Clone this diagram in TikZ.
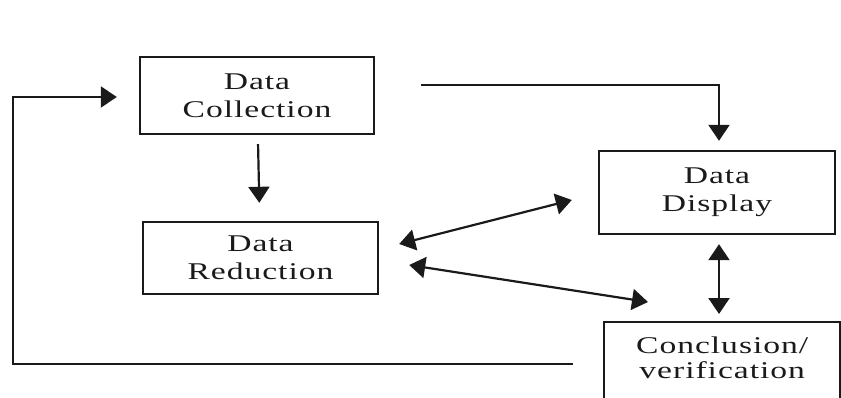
\documentclass[tikz,border=0pt]{standalone}
\usepackage{fontspec}
\usepackage{tikz}
\usetikzlibrary{arrows.meta,positioning,calc}
\setmainfont{Liberation Serif}
\newfontfamily\boxfont[FakeStretch=1.4,LetterSpace=4]{Liberation Serif}
\definecolor{ink}{HTML}{1A1A1A}

\begin{document}
\begin{tikzpicture}[x=1pt,y=-1pt,
    stagebox/.style={draw=ink, line width=2.4pt, minimum width=234pt,
      align=center, font=\boxfont\fontsize{24}{28}\selectfont, text=ink},
    stagetext/.style={align=center, font=\boxfont\fontsize{24}{25}\selectfont, text=ink},
    flow/.style={draw=ink, line width=2.2pt,
      -{Triangle[length=16pt,width=21pt]}},
    twoway/.style={draw=ink, line width=2.2pt,
      {Triangle[length=16pt,width=21pt]}-{Triangle[length=16pt,width=21pt]}}]
  \useasboundingbox (0,0) rectangle (841,398);

  % Stages
  \node[stagebox, minimum height=77pt] (collect) at (257,95.5) {Data\\Collection};
  \node[stagebox, minimum height=72pt, minimum width=235pt] (reduce) at (260.5,258) {Data\\Reduction};
  \node[stagebox, minimum height=83pt, minimum width=236pt] (display) at (717,192.5) {Data\\Display};
  \node[stagebox, anchor=north west, minimum width=236pt, minimum height=100pt] (concl) at (603,321) {};
  \node[stagetext, below=12pt of concl.north] (concltext) {Conclusion/\\verification};

  % Loop back to collection
  \coordinate (loopbl) at (13,364);
  \draw[flow] ([xshift=-30pt,yshift=-43pt]concl.north west) -- (loopbl)
    |- ([xshift=-22pt,yshift=-1.5pt]collect.west);

  % Collection to reduction and display
  \draw[flow, shorten <=9pt, shorten >=18pt] (collect) -- (reduce);
  \draw[flow] ([xshift=46pt,yshift=10.5pt]collect.east)
    -| ([xshift=2pt,yshift=9pt]display.north);

  % Two-way links
  \draw[twoway] ([xshift=20pt,yshift=14pt]reduce.east) -- ([xshift=-26pt,yshift=-7.5pt]display.west);
  \draw[twoway] ([xshift=30pt,yshift=-7pt]reduce.east) -- ([xshift=45pt,yshift=19pt]concl.north west);
  \draw[twoway, shorten <=9pt, shorten >=7pt] ([xshift=2pt]display.south) -- ([xshift=2pt]display.south |- concl.north);
\end{tikzpicture}
\end{document}
